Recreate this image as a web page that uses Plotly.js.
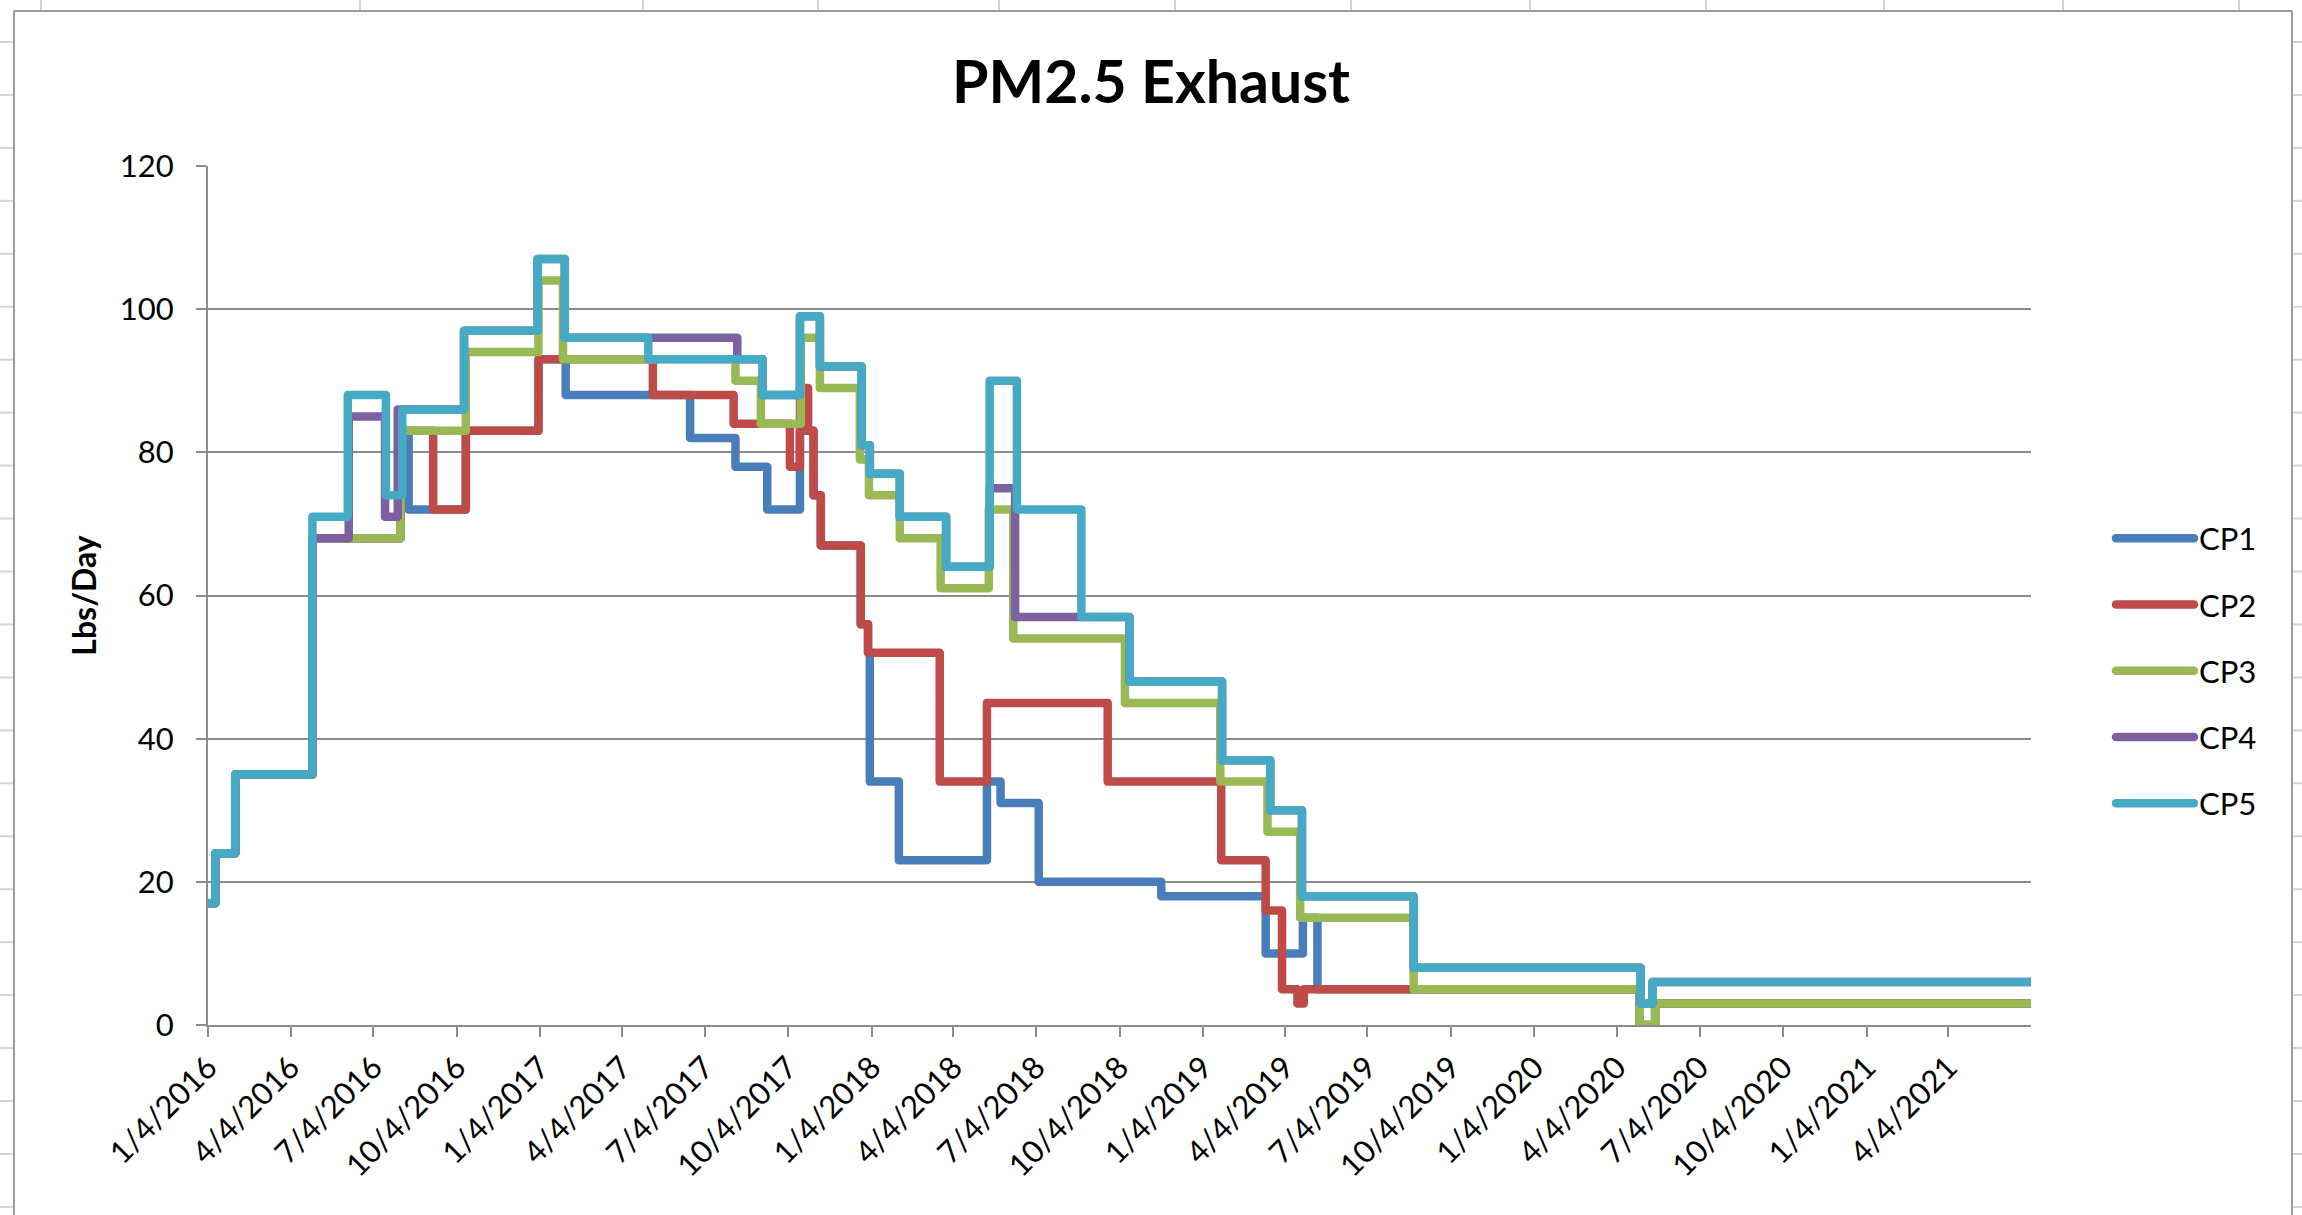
<!DOCTYPE html>
<html>
<head>
<meta charset="utf-8">
<script src="https://cdn.plot.ly/plotly-3.0.1.min.js"></script>
<style>
html,body{margin:0;padding:0;background:#ffffff;overflow:hidden;}
#chart{width:2302px;height:1215px;}
#chart .scatterlayer .js-line, #chart .legend .js-line{stroke-linejoin:round;stroke-linecap:round;}
</style>
</head>
<body>
<div id="chart"></div>
<script>
// ---------------- DATA ----------------
const seriesNames = ['CP1', 'CP2', 'CP3', 'CP4', 'CP5'];

const cp1Dates = ['2016-01-04','2016-01-12','2016-02-03','2016-04-28','2016-08-03','2016-08-12','2016-10-14','2017-01-02','2017-02-01','2017-06-18','2017-08-07','2017-09-11','2017-10-17','2017-11-01','2017-11-09','2017-12-23','2017-12-31','2018-01-02','2018-02-03','2018-05-11','2018-05-26','2018-07-07','2018-11-19','2019-03-14','2019-04-24','2019-05-10','2020-04-29','2020-05-16','2021-07-04'];
const cp1Values = [17,24,35,68,83,72,83,93,88,82,78,72,83,74,67,56,52,34,23,34,31,20,18,10,15,5,0,3,3];

const cp2Dates = ['2016-01-04','2016-01-12','2016-02-03','2016-04-28','2016-08-03','2016-09-08','2016-10-14','2017-01-02','2017-05-08','2017-08-05','2017-10-06','2017-10-17','2017-10-26','2017-11-01','2017-11-09','2017-12-23','2017-12-31','2018-03-20','2018-05-11','2018-09-21','2019-01-24','2019-03-14','2019-04-01','2019-04-18','2019-04-25','2020-04-29','2020-05-16','2021-07-04'];
const cp2Values = [17,24,35,68,83,72,83,93,88,84,78,89,83,74,67,56,52,34,45,34,23,16,5,3,5,0,3,3];

const cp3Dates = ['2016-01-04','2016-01-12','2016-02-03','2016-04-28','2016-08-03','2016-10-14','2017-01-02','2017-01-29','2017-08-07','2017-09-04','2017-10-18','2017-11-08','2017-12-22','2018-01-01','2018-02-04','2018-03-21','2018-05-13','2018-06-09','2018-10-10','2019-01-23','2019-03-16','2019-04-21','2019-08-24','2020-04-29','2020-05-16','2021-07-04'];
const cp3Values = [17,24,35,68,83,94,104,93,90,84,96,89,79,74,68,61,72,54,45,34,27,15,5,0,3,3];

const cp4Dates = ['2016-01-04','2016-01-12','2016-02-03','2016-04-28','2016-06-07','2016-07-17','2016-07-31','2016-10-12','2017-01-01','2017-01-31','2017-08-09','2017-09-06','2017-10-17','2017-11-08','2017-12-24','2018-01-02','2018-02-04','2018-03-27','2018-05-14','2018-06-11','2018-10-15','2019-01-25','2019-03-19','2019-04-23','2019-08-24','2020-04-30','2020-05-13','2021-07-04'];
const cp4Values = [17,24,35,68,85,71,86,97,107,96,93,88,99,92,81,77,71,64,75,57,48,37,30,18,8,3,6,6];

const cp5Dates = ['2016-01-04','2016-01-12','2016-02-03','2016-04-28','2016-06-06','2016-07-18','2016-08-05','2016-10-12','2017-01-01','2017-01-31','2017-05-03','2017-09-06','2017-10-17','2017-11-08','2017-12-24','2018-01-02','2018-02-04','2018-03-27','2018-05-14','2018-06-13','2018-08-23','2018-10-15','2019-01-25','2019-03-19','2019-04-23','2019-08-24','2020-04-30','2020-05-13','2021-07-04'];
const cp5Values = [17,24,35,71,88,74,86,97,107,96,93,88,99,92,81,77,71,64,90,72,57,48,37,30,18,8,3,6,6];

const tickDates = ['2016-01-04','2016-04-04','2016-07-04','2016-10-04','2017-01-04','2017-04-04','2017-07-04','2017-10-04','2018-01-04','2018-04-04','2018-07-04','2018-10-04','2019-01-04','2019-04-04','2019-07-04','2019-10-04','2020-01-04','2020-04-04','2020-07-04','2020-10-04','2021-01-04','2021-04-04'];
const tickLabels = ['1/4/2016','4/4/2016','7/4/2016','10/4/2016','1/4/2017','4/4/2017','7/4/2017','10/4/2017','1/4/2018','4/4/2018','7/4/2018','10/4/2018','1/4/2019','4/4/2019','7/4/2019','10/4/2019','1/4/2020','4/4/2020','7/4/2020','10/4/2020','1/4/2021','4/4/2021'];
const yTicks = [0, 20, 40, 60, 80, 100, 120];

// ---------------- STYLE ----------------
const colors = ['#4a7ebb', '#be4b48', '#98b954', '#7d60a0', '#46aac5'];
const FONT = 'Lato, "Open Sans", sans-serif';
const W = 2302, H = 1215;
const M = {l: 208, r: 271, t: 166, b: 190};
const PW = W - M.l - M.r, PH = H - M.t - M.b;
const px2x = p => (p - M.l) / PW;
const py2y = p => (H - M.b - p) / PH;

const allDates = [cp1Dates, cp2Dates, cp3Dates, cp4Dates, cp5Dates];
const allValues = [cp1Values, cp2Values, cp3Values, cp4Values, cp5Values];

const traces = seriesNames.map((name, i) => ({
  type: 'scatter',
  mode: 'lines',
  name: name,
  x: allDates[i],
  y: allValues[i],
  line: {color: colors[i], width: 8.5, shape: 'hv'},
  legendgroup: 'g' + i,
  hoverinfo: 'skip'
}));

// spreadsheet frame & cell lines around the chart object (decoration)
const shapes = [];
const frameColor = '#9c9c9c', cellColor = '#d4d4d4';
function line(x0, y0, x1, y1, color, w) {
  shapes.push({type: 'line', xref: 'paper', yref: 'paper',
    x0: px2x(x0), y0: py2y(y0), x1: px2x(x1), y1: py2y(y1),
    line: {color: color, width: w}, layer: 'below'});
}
const colLines = [41, 360, 643, 818, 999, 1175, 1351, 1530, 1706, 1884, 2063, 2239];
colLines.forEach(x => line(x, 0, x, 10, cellColor, 2));
for (let y = 42; y < H; y += 52.95) {
  line(0, y, 13, y, cellColor, 2);
  line(2293, y, W, y, cellColor, 2);
}
line(14, 11, 2292, 11, frameColor, 2);
line(14, 11, 14, H, frameColor, 2);
line(2292, 11, 2292, H, frameColor, 2);

const axisGray = '#8c8c8c';
const layout = {
  width: W, height: H,
  margin: {l: M.l, r: M.r, t: M.t, b: M.b, pad: 0},
  paper_bgcolor: '#ffffff',
  plot_bgcolor: '#ffffff',
  font: {family: FONT, color: '#000000', size: 31},
  title: {
    text: 'PM2.5 Exhaust',
    font: {family: FONT, size: 59, weight: 700, color: '#000000'},
    xref: 'container', x: 0.5, xanchor: 'center',
    yref: 'container', y: 1 - 82 / H, yanchor: 'middle'
  },
  xaxis: {
    type: 'date',
    range: ['2016-01-04', '2021-07-04'],
    autorange: false,
    tickmode: 'array',
    tickvals: tickDates,
    ticktext: tickLabels,
    tickangle: -45,
    ticks: 'outside', ticklen: 10, tickwidth: 2, tickcolor: axisGray,
    showline: true, linecolor: axisGray, linewidth: 2,
    showgrid: false, zeroline: false,
    tickfont: {family: FONT, size: 31, color: '#000000'},
    fixedrange: true
  },
  yaxis: {
    range: [0, 120],
    autorange: false,
    tickmode: 'array',
    tickvals: yTicks,
    ticktext: yTicks.map(String),
    ticks: 'outside', ticklen: 10, tickwidth: 2, tickcolor: axisGray,
    ticklabelstandoff: 16,
    showline: true, linecolor: axisGray, linewidth: 2,
    showgrid: true, gridcolor: axisGray, gridwidth: 2,
    zeroline: false,
    tickfont: {family: FONT, size: 31, color: '#000000'},
    title: {text: 'Lbs/Day', font: {family: FONT, size: 32, weight: 700, color: '#000000'}, standoff: 14},
    fixedrange: true
  },
  legend: {
    x: px2x(2111), xanchor: 'left',
    y: py2y(671), yanchor: 'middle',
    font: {family: FONT, size: 31, color: '#000000'},
    itemwidth: 78,
    traceorder: 'grouped',
    tracegroupgap: 23,
    bgcolor: 'rgba(0,0,0,0)',
    borderwidth: 0
  },
  showlegend: true,
  shapes: shapes
};

Plotly.newPlot('chart', traces, layout, {displayModeBar: false, staticPlot: true});
</script>
</body>
</html>
